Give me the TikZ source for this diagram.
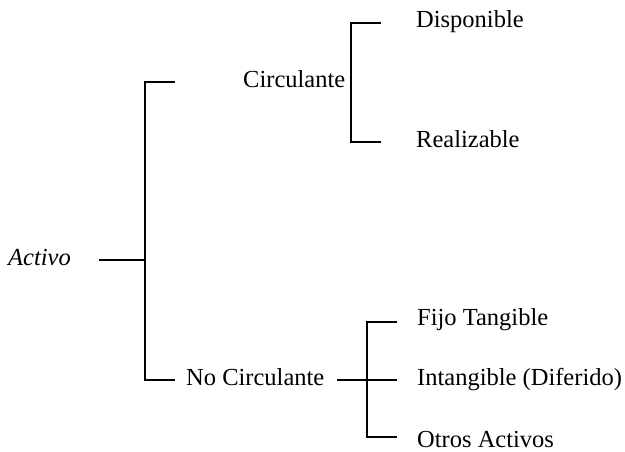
\documentclass[tikz,border=0pt]{standalone}
\usepackage{fontspec}
\setmainfont{Liberation Serif}
\begin{document}
\begin{tikzpicture}[x=1pt,y=-1pt,
  lbl/.style={anchor=base west,inner sep=0pt,font=\fontsize{24.5}{29}\selectfont},
  brace/.style={draw=black,line width=1.3pt,line cap=butt,line join=miter}]
\useasboundingbox (0,0) rectangle (625,451);
\fill[white] (0,0) rectangle (625,451);

% labels
\node[lbl,font=\fontsize{24.5}{29}\selectfont\itshape] (activo) at (8,265) {Activo};
\node[lbl] (circ)   at (243,87)  {Circulante};
\node[lbl] (nocirc) at (186,385) {No Circulante};
\node[lbl] (disp)   at (416,27)  {Disponible};
\node[lbl] (real)   at (416,147) {Realizable};
\node[lbl] (fijo)   at (417,325) {Fijo Tangible};
\node[lbl] (intang) at (417,385) {Intangible (Diferido)};
\node[lbl] (otros)  at (417,447) {Otros Activos};

% bracket points
\coordinate (aIn)  at (99,260);
\coordinate (aMid) at (145,260);
\coordinate (aTop) at (145,82);
\coordinate (aBot) at (145,380);
\coordinate (aTopE) at (175,82);
\coordinate (aBotE) at (175,380);

\coordinate (cTop) at (351,23);
\coordinate (cBot) at (351,142);
\coordinate (cTopE) at (381,23);
\coordinate (cBotE) at (381,142);

\coordinate (nIn)  at (337,380);
\coordinate (nMid) at (367,380);
\coordinate (nMidE) at (397,380);
\coordinate (nTop) at (367,322);
\coordinate (nBot) at (367,437);
\coordinate (nTopE) at (397,322);
\coordinate (nBotE) at (397,437);

% Activo bracket
\draw[brace] (aIn) -- (aMid);
\draw[brace] (aTopE) -- (aTop) -- (aBot) -- (aBotE);

% Circulante bracket
\draw[brace] (cTopE) -- (cTop) -- (cBot) -- (cBotE);

% No Circulante bracket
\draw[brace] (nIn) -- (nMidE);
\draw[brace] (nTopE) -- (nTop) -- (nBot) -- (nBotE);
\end{tikzpicture}
\end{document}
